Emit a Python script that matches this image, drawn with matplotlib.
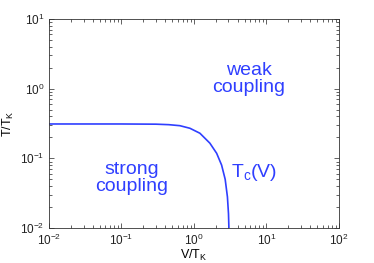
import matplotlib
matplotlib.use('Agg')
import matplotlib.pyplot as plt

plt.rcParams['font.family'] = ['Liberation Sans', 'DejaVu Sans']
plt.rcParams['mathtext.fontset'] = 'custom'
plt.rcParams['mathtext.rm'] = 'Liberation Sans'
plt.rcParams['mathtext.it'] = 'Liberation Sans'

# Tc(V) boundary
v_vals = [0.01, 0.1, 0.3, 0.45, 0.64, 0.88, 1.21, 1.66, 2.06, 2.41, 2.7, 2.9, 3.0, 3.04]
t_vals = [0.311, 0.311, 0.309, 0.304, 0.294, 0.270, 0.229, 0.165, 0.118, 0.080, 0.05, 0.028, 0.016, 0.01]

BLUE = '#2f3fff'

fig = plt.figure(figsize=(3.74, 2.63), dpi=100)
ax = fig.add_axes([0.131, 0.133, 0.775, 0.795])
ax.plot(v_vals, t_vals, color=BLUE, lw=1.2)
ax.set_xscale('log')
ax.set_yscale('log')
ax.set_xlim(1e-2, 1e2)
ax.set_ylim(1e-2, 1e1)

ax.tick_params(which='both', direction='in', top=True, right=True,
               labelsize=8.5, colors='#222222')
ax.tick_params(which='major', length=3.5, width=0.5)
ax.tick_params(which='minor', length=2, width=0.5)
for s in ax.spines.values():
    s.set_linewidth(0.6)
    s.set_color('#333333')

ax.set_xlabel('V/T$_\\mathregular{K}$', fontsize=9, labelpad=0)
ax.set_ylabel('T/T$_\\mathregular{K}$', fontsize=9, labelpad=3)

ax.text(0.14, 0.052, 'strong\ncoupling', color=BLUE, fontsize=14,
        ha='center', va='center', linespacing=1.05)
ax.text(5.7, 1.38, 'weak\ncoupling', color=BLUE, fontsize=14,
        ha='center', va='center', linespacing=1.05)
ax.text(3.25, 0.054, 'T$_\\mathregular{c}$(V)', color=BLUE, fontsize=14,
        ha='left', va='baseline')

fig.savefig('out.png', dpi=100)
